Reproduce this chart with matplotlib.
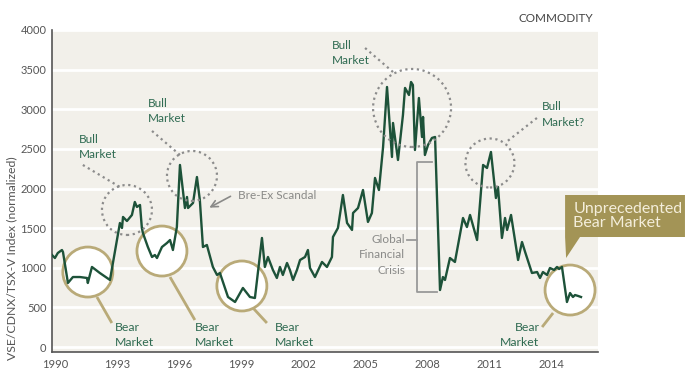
import matplotlib.pyplot as plt
from matplotlib.patches import Ellipse, Polygon

#----- Data -----
years = [1989.86, 1990.00, 1990.14, 1990.34, 1990.39, 1990.63, 1990.87, 1991.21, 1991.55, 1991.59,
         1991.79, 1992.17, 1992.66, 1993.14, 1993.24, 1993.29, 1993.48, 1993.72, 1993.86, 1993.96,
         1994.11, 1994.20, 1994.25, 1994.49, 1994.69, 1994.83, 1994.93, 1995.17, 1995.41, 1995.56,
         1995.70, 1995.89, 1996.04, 1996.28, 1996.38, 1996.43, 1996.67, 1996.86, 1997.00, 1997.15,
         1997.34, 1997.63, 1997.83, 1997.97, 1998.36, 1998.70, 1999.08, 1999.42, 1999.66, 2000.00,
         2000.14, 2000.29, 2000.53, 2000.72, 2000.87, 2001.01, 2001.21, 2001.35, 2001.50, 2001.69,
         2001.84, 2002.08, 2002.22, 2002.32, 2002.56, 2002.90, 2003.14, 2003.38, 2003.43, 2003.67,
         2003.91, 2004.11, 2004.35, 2004.40, 2004.64, 2004.88, 2005.12, 2005.31, 2005.46, 2005.65,
         2005.85, 2006.04, 2006.28, 2006.33, 2006.57, 2006.81, 2006.91, 2007.10, 2007.20, 2007.29,
         2007.39, 2007.58, 2007.73, 2007.78, 2007.87, 2008.02, 2008.21, 2008.36, 2008.60, 2008.74,
         2008.84, 2009.08, 2009.32, 2009.71, 2009.90, 2010.05, 2010.39, 2010.68, 2010.87, 2011.06,
         2011.30, 2011.40, 2011.59, 2011.74, 2011.84, 2012.03, 2012.37, 2012.56, 2012.71, 2013.04,
         2013.29, 2013.43, 2013.57, 2013.77, 2013.91, 2014.11, 2014.25, 2014.35, 2014.49, 2014.73,
         2014.88, 2015.02, 2015.12, 2015.27, 2015.41]
index = [1161, 1123, 1186, 1224, 1199, 808, 883, 883, 871, 808,
         1010, 934, 846, 1565, 1502, 1641, 1590, 1666, 1830, 1767,
         1792, 1502, 1439, 1262, 1136, 1161, 1123, 1262, 1312, 1350,
         1224, 1514, 2297, 1754, 1893, 1754, 1817, 2145, 1855, 1262,
         1287, 1010, 909, 934, 631, 568, 745, 631, 618, 1376,
         1010, 1136, 972, 871, 1010, 909, 1060, 972, 846, 972,
         1098, 1136, 1224, 997, 883, 1073, 1010, 1136, 1388, 1502,
         1918, 1565, 1477, 1691, 1754, 1981, 1578, 1691, 2133, 1981,
         2524, 3281, 2398, 2827, 2360, 2928, 3269, 3180, 3344, 3306,
         2486, 3142, 2650, 2903, 2423, 2549, 2638, 2650, 719, 883,
         846, 1123, 1073, 1628, 1514, 1666, 1350, 2297, 2259, 2461,
         1880, 2019, 1376, 1628, 1477, 1666, 1098, 1325, 1199, 934,
         946, 871, 946, 909, 997, 972, 1010, 984, 1010, 568,
         681, 631, 656, 644, 631]

x_ticks = [1990, 1993, 1996, 1999, 2002, 2005, 2008, 2011, 2014]
y_ticks = [0, 500, 1000, 1500, 2000, 2500, 3000, 3500, 4000]

# circle centres (year, value) and radius in pixels
bull_circles = [(1993.48, 1729, 25), (1996.62, 2158, 25), (2007.25, 3016, 39), (2011.01, 2322, 24.5)]
bear_circles = [(1991.59, 946, 25), (1995.17, 1211, 25), (1999.03, 770, 25), (2014.88, 719, 25)]

#----- Styles -----
line_col = "#1d5239"
green_txt = "#2f6b52"
grey_txt = "#8a8a88"
gold = "#b9aa78"
box_col = "#a39456"
bg_col = "#f2f0ea"

plt.rcParams["font.family"] = ["Lato", "DejaVu Sans"]

fig = plt.figure(figsize=(6.98, 3.79), dpi=100)
ax = fig.add_axes([52/698, 27/379, 546/698, 322/379])
ax.set_facecolor(bg_col)
ax.set_xlim(1989.86, 2016.23)
ax.set_ylim(-63, 4000)

px_x = 546 / (2016.23 - 1989.86)
px_y = 322 / (4000 + 63)

ax.set_axisbelow(True)
ax.yaxis.grid(True, color="white", lw=2)
ax.set_xticks(x_ticks)
ax.set_yticks(y_ticks)
ax.tick_params(length=0, labelsize=8, colors="#555555")
ax.tick_params(axis="y", pad=4)
ax.tick_params(axis="x", pad=5)
for s in ["top", "right"]:
    ax.spines[s].set_visible(False)
for s in ["left", "bottom"]:
    ax.spines[s].set_color("#555555")
    ax.spines[s].set_linewidth(1.2)

#--- bear circles (under the line) ---
for cx, cy, r in bear_circles:
    ax.add_patch(Ellipse((cx, cy), 2*r/px_x, 2*r/px_y, facecolor="white",
                         edgecolor=gold, lw=2, zorder=2))

ax.plot(years, index, color=line_col, lw=1.7, zorder=3)

#--- bull circles ---
for cx, cy, r in bull_circles:
    ax.add_patch(Ellipse((cx, cy), 2*r/px_x, 2*r/px_y, facecolor="none",
                         edgecolor="#8c8c8c", lw=1.6, ls=(0, (1, 1.6)), zorder=4))

#--- bull labels ---
bull_labels = [("Bull\nMarket", 1991.16, 2524, (1991.35, 1993.14), (2297, 2019)),
               ("Bull\nMarket", 1994.49, 2978, (1994.69, 1996.04), (2726, 2423)),
               ("Bull\nMarket", 2003.38, 3704, (2004.98, 2006.33), (3773, 3470)),
               ("Bull\nMarket?", 2013.53, 2934, (2013.28, 2011.74), (2890, 2574))]
for txt, tx, ty, lx, ly in bull_labels:
    ax.text(tx, ty, txt, color=green_txt, fontsize=8.5, ha="left", va="center", linespacing=1.45)
    ax.plot(lx, ly, color="#8c8c8c", lw=1.6, ls=(0, (1, 1.6)), zorder=4)

#--- bear labels ---
bear_labels = [(1992.90, "left", (1992.03, 1992.75), (631, 303)),
               (1996.76, "left", (1995.56, 1996.76), (883, 341)),
               (2000.63, "left", (1999.57, 2000.24), (492, 303)),
               (2013.40, "right", (2014.06, 2013.53), (429, 252))]
for tx, ha, lx, ly in bear_labels:
    ax.text(tx, 151, "Bear\nMarket", color=green_txt, fontsize=8.8, ha=ha, va="center",
            linespacing=1.45, multialignment=ha)
    ax.plot(lx, ly, color=gold, lw=2, zorder=2, solid_capstyle="butt")

#--- Bre-Ex ---
ax.text(1998.84, 1918, "Bre-Ex Scandal", color=grey_txt, fontsize=8.5, ha="left", va="center")
ax.annotate("", xy=(1997.34, 1742), xytext=(1998.60, 1918),
            arrowprops=dict(arrowstyle="->", color=grey_txt, lw=1.2, mutation_scale=12))

#--- Global Financial Crisis bracket ---
ax.plot([2008.21, 2007.49, 2007.49, 2008.45], [2335, 2335, 694, 694], color="#999999", lw=1.3, zorder=2)
ax.plot([2007.0, 2007.49], [1350, 1350], color="#999999", lw=1.3, zorder=2)
ax.text(2006.91, 1161, "Global\nFinancial\nCrisis", color=grey_txt, fontsize=8.5,
        ha="right", va="center", linespacing=1.45, multialignment="right")

#--- Unprecedented box ---
ax.add_patch(Polygon([(2014.64, 1918), (2020.43, 1918), (2020.43, 1388), (2015.36, 1388),
                      (2014.69, 1123), (2014.64, 1388)], closed=True,
                     facecolor=box_col, edgecolor="none", clip_on=False, zorder=5))
ax.text(2015.03, 1653, "Unprecedented\nBear Market", color="#f4eedb", fontsize=11.5,
        ha="left", va="center", linespacing=1.05, zorder=6, clip_on=False)

fig.text(593/698, 1 - 19/379, "COMMODITY", color="#444444", fontsize=8.5, ha="right", va="center")
fig.text(12/698, 1 - 258/379, "VSE/CDNX/TSX-V Index (normalized)", color="#555555",
         fontsize=8.8, rotation=90, ha="center", va="center")

fig.savefig("out.png", dpi=100, facecolor="white")
